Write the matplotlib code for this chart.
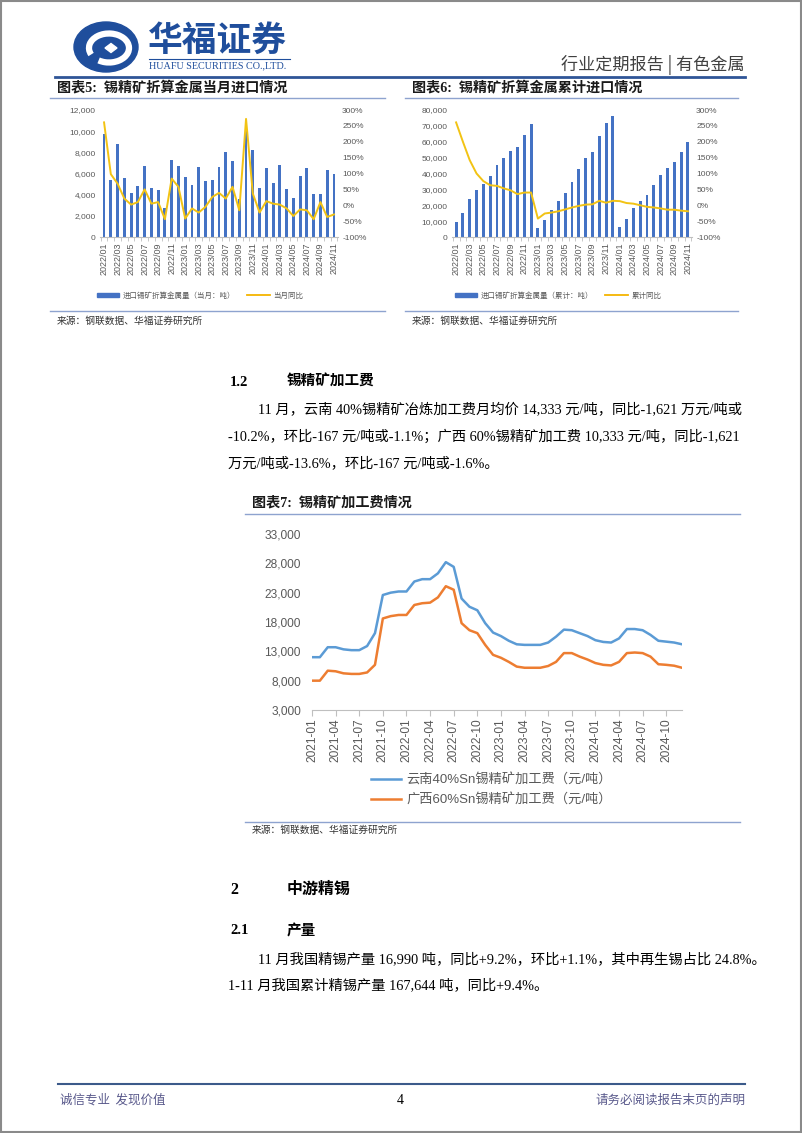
import matplotlib
matplotlib.use('Agg')
import matplotlib.pyplot as plt
import matplotlib.patches as mpatches
from matplotlib.lines import Line2D
import numpy as np

plt.rcParams['font.family'] = ['Liberation Sans', 'Noto Sans CJK SC', 'DejaVu Sans']
BODY = ['Liberation Serif', 'Noto Sans CJK SC', 'DejaVu Sans']

W, H = 802, 1133

# ---- data: chart 5 / 6 (monthly, 2022/01 - 2024/11) ----
months = [f'{y}/{m:02d}' for y in (2022, 2023, 2024) for m in range(1, 13)][:35]
monthly_import = [9700, 5400, 8800, 5600, 4200, 4800, 6700, 4600, 4400, 2700, 7300, 6700,
                  5700, 4900, 6600, 5300, 5400, 6600, 8000, 7200, 3600, 10200, 8200, 4600,
                  6500, 5100, 6800, 4500, 3700, 5800, 6500, 4100, 4100, 6300, 6000]
monthly_yoy = [261, 98, 68, 21, 2, 10, 50, 5, 10, -44, 84, 58,
               -42, -10, -23, -5, 26, 39, 21, 58, -16, 272, 37, -23,
               13, 5, 2, -10, -34, -13, -16, -44, 10, -37, -29]
cum_import = [9500, 15200, 23800, 29500, 33700, 38500, 45300, 49900, 54300, 57000, 64200, 70900,
              5700, 10500, 17300, 22500, 28000, 34500, 42700, 49700, 53300, 63600, 71600, 76200,
              6100, 11600, 18300, 22900, 26700, 32600, 38900, 43400, 47000, 53500, 59600]
cum_yoy = [261, 200, 142, 100, 76, 63, 61, 53, 47, 35, 40, 40,
           -42, -26, -23, -19, -13, -7, -2, 2, 3, 14, 8, 14,
           13, 7, 5, 0, -5, -7, -10, -14, -14, -17, -19]

# ---- data: chart 7 (monthly, 2021-01 - 2024-12) ----
fee_months = [f'{y}-{m:02d}' for y in (2021, 2022, 2023, 2024) for m in range(1, 13)]
yunnan_fee = [12000, 12000, 13700, 13700, 13340, 13200, 13200, 13900, 16100, 22600, 23000, 23200,
              23200, 24900, 25300, 25300, 26300, 28200, 27400, 22000, 20600, 20000, 17800, 16200,
              15600, 14800, 14200, 14100, 14100, 14100, 14500, 15500, 16700, 16600, 16100, 15600,
              14900, 14600, 14500, 15200, 16800, 16800, 16600, 15800, 14800, 14650, 14500, 14200]
guangxi_fee = [8000, 8000, 9700, 9600, 9250, 9150, 9150, 9400, 10700, 18600, 19000, 19200,
               19200, 20900, 21200, 21300, 22200, 24100, 23500, 17800, 16600, 16100, 14100, 12400,
               11900, 11200, 10400, 10200, 10200, 10200, 10500, 11200, 12700, 12700, 12100, 11600,
               11000, 10700, 10600, 11200, 12700, 12800, 12700, 12100, 10800, 10700, 10550, 10200]

BAR = '#4472C4'
GOLD = '#F2C314'
GREY = '#595959'
AXL = '#BFBFBF'
RULE = '#8EA3CF'
BODY_SIZE = 10.3


def box(x0, y0, x1, y1):
    return [x0 / W, 1 - y1 / H, (x1 - x0) / W, (y1 - y0) / H]


fig = plt.figure(figsize=(W / 100, H / 100), dpi=100)
page = fig.add_axes([0, 0, 1, 1])
page.set_xlim(0, W)
page.set_ylim(H, 0)
page.axis('off')

# page border
page.add_patch(mpatches.Rectangle((0.5, 0.5), W - 1.5, H - 1.5, fill=False, ec='#8a8a8a', lw=1.5))

# ---- header / logo ----
page.add_patch(mpatches.Ellipse((106, 47), 64, 50, color='#1F4E9C'))
page.add_patch(mpatches.Arc((109, 48), 40, 29, theta1=-200, theta2=130, color='white', lw=4.5))
page.add_patch(mpatches.Ellipse((111, 48), 20, 14, color='#1F4E9C'))
page.add_patch(mpatches.Polygon([[105, 48], [111, 43.5], [117, 48], [111, 52.5]], color='white'))
page.text(148, 40, '华福证券', fontsize=25, fontweight='bold', color='#1F4E9C',
          family=['Noto Sans CJK SC'], va='center', ha='left')
page.plot([149, 290], [59, 59], color='#1F4E9C', lw=0.8)
page.text(149, 66, 'HUAFU SECURITIES CO.,LTD.', fontsize=7.3, color='#1F4E9C',
          family=['Liberation Serif'], va='center', ha='left')
page.text(745, 65, '行业定期报告 | 有色金属', fontsize=12.3, color='#404040',
          family=['Noto Sans CJK SC'], va='center', ha='right')
page.plot([55, 745], [77, 77], color='#2F5597', lw=2)

# ---- chart titles and rules for charts 5/6 ----
page.text(57, 88.5, '图表5:  锡精矿折算金属当月进口情况', fontsize=10.2, fontweight='bold',
          color='#1a1a1a', va='center', family=BODY)
page.text(412, 88.5, '图表6:  锡精矿折算金属累计进口情况', fontsize=10.2, fontweight='bold',
          color='#1a1a1a', va='center', family=BODY)
for xa, xb in ((50, 385), (405, 738)):
    page.plot([xa, xb], [98, 98], color=RULE, lw=1)
    page.plot([xa, xb], [311, 311], color=RULE, lw=1)
page.text(57, 321, '来源：钢联数据、华福证券研究所', fontsize=7, color='#333333', va='center',
          family=['Noto Sans CJK SC'])
page.text(412, 321, '来源：钢联数据、华福证券研究所', fontsize=7, color='#333333', va='center',
          family=['Noto Sans CJK SC'])


def bar_line_chart(rect, bars, line, ymax, ystep, bar_label, line_label, legend_x):
    ax = fig.add_axes(rect)
    x = np.arange(len(bars))
    ax.bar(x, bars, width=0.42, color=BAR, label=bar_label)
    ax.set_xlim(-0.6, len(bars) - 0.4)
    ax.set_ylim(0, ymax)
    ax.set_yticks(np.arange(0, ymax + 1, ystep))
    ax.set_yticklabels([f'{int(v):,}' for v in np.arange(0, ymax + 1, ystep)])
    for s in ('top', 'left', 'right'):
        ax.spines[s].set_visible(False)
    ax.spines['bottom'].set_color(AXL)
    ax.tick_params(axis='y', length=0, labelsize=6, colors=GREY, pad=3)
    ax.set_xticks(x[::2])
    ax.set_xticklabels(months[::2], rotation=90)
    ax.tick_params(axis='x', length=0, labelsize=6.5, colors=GREY, pad=4)
    ax.set_xticks(np.arange(-0.5, len(bars), 1), minor=True)
    ax.tick_params(axis='x', which='minor', length=3, color=AXL)
    ax2 = ax.twinx()
    ax2.plot(x, line, color=GOLD, lw=1.4, label=line_label)
    ax2.set_ylim(-100, 300)
    ax2.set_yticks(np.arange(-100, 301, 50))
    ax2.set_yticklabels([f'{v}%' for v in np.arange(-100, 301, 50)])
    ax2.tick_params(axis='y', length=0, labelsize=6, colors=GREY, pad=3)
    for s in ax2.spines.values():
        s.set_visible(False)
    handles = [mpatches.Patch(color=BAR), Line2D([], [], color='#F5B400', lw=1.3)]
    fig.legend(handles, [bar_label, line_label], loc='center',
               bbox_to_anchor=(legend_x / W, 1 - 296 / H), ncol=2, frameon=False,
               fontsize=5.4, labelcolor=GREY, handlelength=3.0, handleheight=0.55,
               handletextpad=0.5, columnspacing=1.6)


bar_line_chart(box(100, 110, 338, 237), monthly_import, monthly_yoy, 12000, 2000,
               '进口锡矿折算金属量（当月：吨）', '当月同比', 200)
bar_line_chart(box(452, 110, 692, 237), cum_import, cum_yoy, 80000, 10000,
               '进口锡矿折算金属量（累计：吨）', '累计同比', 558)

# ---- section 1.2 text ----
page.text(230, 382, '1.2', fontsize=10.5, fontweight='bold', va='center', family=BODY)
page.text(287, 382, '锡精矿加工费', fontsize=10.5, fontweight='bold', va='center', family=BODY)
para1 = ['11 月，云南 40%锡精矿冶炼加工费月均价 14,333 元/吨，同比-1,621 万元/吨或',
         '-10.2%，环比-167 元/吨或-1.1%；广西 60%锡精矿加工费 10,333 元/吨，同比-1,621',
         '万元/吨或-13.6%，环比-167 元/吨或-1.6%。']
page.text(258, 410, para1[0], fontsize=BODY_SIZE, va='center', family=BODY)
page.text(228, 437, para1[1], fontsize=BODY_SIZE, va='center', family=BODY)
page.text(228, 463, para1[2], fontsize=BODY_SIZE, va='center', family=BODY)

page.text(252, 502, '图表7:  锡精矿加工费情况', fontsize=10.2, fontweight='bold',
          color='#1a1a1a', va='center', family=BODY)
page.plot([245, 740], [514, 514], color=RULE, lw=1)
page.plot([245, 740], [822, 822], color=RULE, lw=1)
page.text(252, 830, '来源：钢联数据、华福证券研究所', fontsize=7, color='#333333', va='center',
          family=['Noto Sans CJK SC'])

# ---- chart 7 ----
ax7 = fig.add_axes(box(312, 534, 682, 710))
xf = np.arange(len(fee_months))
ax7.plot(xf, yunnan_fee, color='#5B9BD5', lw=1.8, label='云南40%Sn锡精矿加工费（元/吨）')
ax7.plot(xf, guangxi_fee, color='#ED7D31', lw=1.8, label='广西60%Sn锡精矿加工费（元/吨）')
ax7.set_xlim(0, len(fee_months) - 1)
ax7.set_ylim(3000, 33000)
ax7.set_yticks(np.arange(3000, 33001, 5000))
ax7.set_yticklabels([f'{v:,}' for v in np.arange(3000, 33001, 5000)])
for s in ('top', 'left', 'right'):
    ax7.spines[s].set_visible(False)
ax7.spines['bottom'].set_color(AXL)
ax7.tick_params(axis='y', length=0, labelsize=8.6, colors=GREY, pad=8)
ax7.set_xticks(xf[::3])
ax7.set_xticklabels(fee_months[::3], rotation=90)
ax7.tick_params(axis='x', length=4, color=AXL, labelsize=8.6, labelcolor=GREY, pad=2)
fig.legend(*ax7.get_legend_handles_labels(), loc='upper left',
           bbox_to_anchor=(371 / W, 1 - 773 / H), frameon=False, fontsize=9.5,
           labelcolor=GREY, handlelength=2.3, handletextpad=0.4, labelspacing=0.55,
           borderpad=0, borderaxespad=0)

# ---- section 2 text ----
page.text(230, 890, '2', fontsize=11.5, fontweight='bold', va='center', family=BODY)
page.text(287, 890, '中游精锡', fontsize=11.5, fontweight='bold', va='center', family=BODY)
page.text(230, 931, '2.1', fontsize=10.5, fontweight='bold', va='center', family=BODY)
page.text(287, 931, '产量', fontsize=10.5, fontweight='bold', va='center', family=BODY)
page.text(258, 959, '11 月我国精锡产量 16,990 吨，同比+9.2%，环比+1.1%，其中再生锡占比 24.8%。',
          fontsize=BODY_SIZE, va='center', family=BODY)
page.text(228, 985, '1-11 月我国累计精锡产量 167,644 吨，同比+9.4%。',
          fontsize=BODY_SIZE, va='center', family=BODY)

# ---- footer ----
page.plot([58, 745], [1084, 1084], color='#3B5A8A', lw=1.5)
page.text(60, 1100, '诚信专业  发现价值', fontsize=9, color='#5A5A8C', va='center',
          family=['Noto Sans CJK SC'])
page.text(400, 1100, '4', fontsize=10, color='black', va='center', ha='center', family=BODY)
page.text(745, 1100, '请务必阅读报告末页的声明', fontsize=9, color='#5A5A8C', va='center',
          ha='right', family=['Noto Sans CJK SC'])

fig.savefig('out.png', dpi=100)
